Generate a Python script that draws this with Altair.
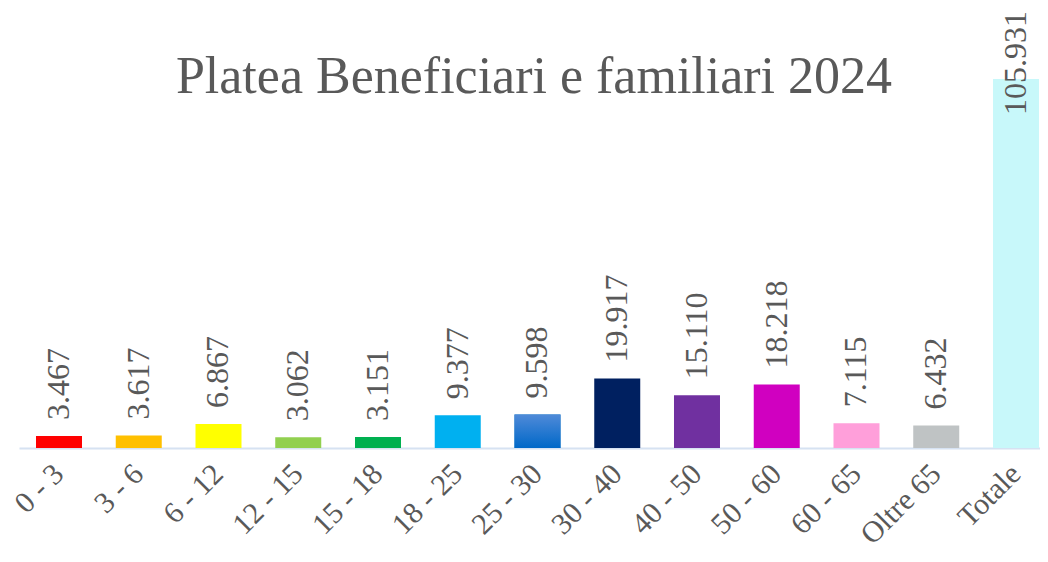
import altair as alt
import pandas as pd

TITLE = "Platea Beneficiari e familiari 2024"
categories = ["0 - 3", "3 - 6", "6 - 12", "12 - 15", "15 - 18", "18 - 25", "25 - 30",
              "30 - 40", "40 - 50", "50 - 60", "60 - 65", "Oltre 65", "Totale"]
values = [3467, 3617, 6867, 3062, 3151, 9377, 9598, 19917, 15110, 18218, 7115, 6432, 105931]
colors = ["#FF0000", "#FFC000", "#FFFF00", "#92D050", "#00B050", "#00B0F0", "#0070C0",
          "#002060", "#7030A0", "#D000C0", "#FF9FDA", "#BFC3C4", "#C8F8FA"]
value_labels = [f"{v:,}".replace(",", ".") for v in values]

df = pd.DataFrame({"cat": categories, "value": values, "label": value_labels})

FONT = "Liberation Serif"
GREY = "#595959"

x = alt.X("cat:N", sort=categories,
          scale=alt.Scale(paddingInner=0.4232, paddingOuter=0.1129, align=0.944),
          axis=alt.Axis(title=None, labelAngle=-45, labelAlign="right", labelBaseline="middle",
                        labelPadding=21, ticks=False, labelFont=FONT, labelFontSize=30,
                        labelColor=GREY, domainColor="#D6E2F2", domainWidth=2,
                        labelOverlap=False, labelLimit=400, grid=False))
y = alt.Y("value:Q", scale=alt.Scale(domain=[0, 120000]), axis=None)

base = alt.Chart(df)

bars = base.mark_bar().encode(
    x=x, y=y,
    color=alt.Color("cat:N", scale=alt.Scale(domain=categories, range=colors), legend=None),
)

grad_bar = base.transform_filter(alt.datum.cat == "25 - 30").mark_bar(
    color=alt.Gradient(gradient="linear",
                       stops=[alt.GradientStop(offset=0, color="#4F8AD8"),
                              alt.GradientStop(offset=1, color="#0068C8")],
                       x1=0, x2=0, y1=0, y2=1)
).encode(x=x, y=y)

labels = base.transform_filter(alt.datum.cat != "Totale").mark_text(
    angle=270, align="left", baseline="middle", dx=16,
    font=FONT, fontSize=32, color=GREY
).encode(x=x, y=y, text="label:N")

total_label = base.transform_filter(alt.datum.cat == "Totale").mark_text(
    angle=270, align="left", baseline="middle", dx=-36,
    font=FONT, fontSize=32, color=GREY
).encode(x=x, y=y, text="label:N")

title = alt.Chart(pd.DataFrame({"t": [TITLE]})).mark_text(
    font=FONT, fontSize=52, color=GREY, align="center", baseline="alphabetic"
).encode(x=alt.value(515), y=alt.value(63), text="t:N")

chart = alt.layer(bars, grad_bar, labels, total_label, title).properties(
    width=1021, height=418,
    autosize=alt.AutoSizeParams(type="none"),
    padding={"left": 11, "top": 22, "right": 0, "bottom": 106},
).configure_view(stroke=None)

chart.save("out.html", embed_options={"renderer": "svg", "actions": False})
